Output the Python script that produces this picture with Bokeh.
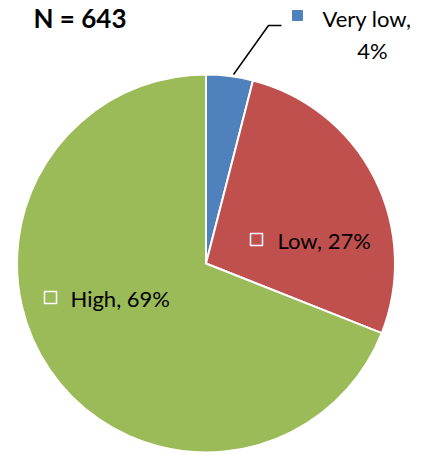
import math
from bokeh.plotting import figure
from bokeh.models import Range1d
from bokeh.core.properties import value
from bokeh.embed import file_html
from bokeh.resources import INLINE

categories = ["Very low", "Low", "High"]
percents = [4, 27, 69]
colors = ["#4F81BD", "#C0504D", "#9BBB59"]
title_text = "N = 643"

W, H = 417, 452
p = figure(width=W, height=H, output_backend="svg", toolbar_location=None,
           x_range=Range1d(0, W), y_range=Range1d(0, H), min_border=0)
p.axis.visible = False
p.grid.visible = False
p.outline_line_color = None

cx, cy, r = 205.5, 189, 189
total = sum(percents)
start = math.pi / 2
starts, ends = [], []
for v in percents:
    a = 2 * math.pi * v / total
    starts.append(start)
    ends.append(start - a)
    start -= a

for s, e, c in zip(starts, ends, colors):
    p.wedge(x=cx, y=cy, radius=r, start_angle=s, end_angle=e, direction="clock",
            fill_color=c, line_color="white", line_width=2)

font = value("Lato")
fs = "22px"

p.text(x=[33], y=[435], text=[title_text], text_font=font, text_font_size="26px",
       text_font_style="bold", text_baseline="middle", text_align="left", text_color="black")

# leader line for Very low
p.line(x=[233, 268, 281], y=[378, 427, 427], line_color="black", line_width=1.5)
p.scatter(x=[297], y=[437], marker="square", size=10, fill_color=colors[0], line_color=colors[0])
p.text(x=[322], y=[434], text=[f"{categories[0]},"], text_font=font, text_font_size=fs,
       text_baseline="middle", text_align="left", text_color="black")
p.text(x=[372], y=[402], text=[f"{percents[0]}%"], text_font=font, text_font_size=fs,
       text_baseline="middle", text_align="center", text_color="black")

# Low
p.scatter(x=[256], y=[213], marker="square", size=12, fill_color=None, line_color="white", line_width=1.5)
p.text(x=[277], y=[212], text=[f"{categories[1]}, {percents[1]}%"], text_font=font, text_font_size=fs,
       text_baseline="middle", text_align="left", text_color="black")

# High
p.scatter(x=[50], y=[155], marker="square", size=12, fill_color=None, line_color="white", line_width=1.5)
p.text(x=[70], y=[154], text=[f"{categories[2]}, {percents[2]}%"], text_font=font, text_font_size=fs,
       text_baseline="middle", text_align="left", text_color="black")

open("out.html", "w").write(file_html(p, INLINE))
